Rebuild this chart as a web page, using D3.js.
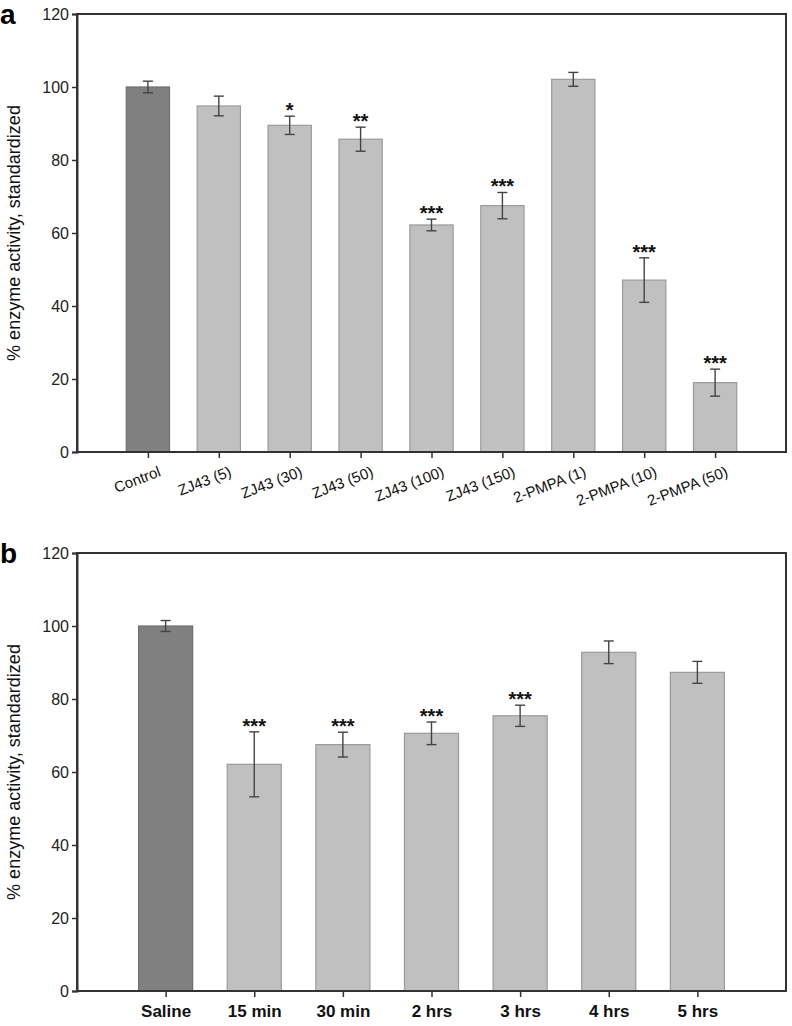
<!DOCTYPE html>
<html><head><meta charset="utf-8">
<script src="https://cdn.jsdelivr.net/npm/d3@7"></script>
<style>body{margin:0;background:#fff}svg{display:block}text{font-family:"Liberation Sans",Arial,sans-serif}</style>
</head><body>
<svg id="c" width="792" height="1026"></svg>
<script>
const catsA = ["Control","ZJ43 (5)","ZJ43 (30)","ZJ43 (50)","ZJ43 (100)","ZJ43 (150)","2-PMPA (1)","2-PMPA (10)","2-PMPA (50)"];
const valsA = [100, 94.8, 89.5, 85.7, 62.2, 67.5, 102.1, 47.1, 19.0];
const errA  = [1.6, 2.7, 2.5, 3.3, 1.6, 3.6, 1.9, 6.1, 3.7];
const sigA  = ["", "", "*", "**", "***", "***", "", "***", "***"];

const catsB = ["Saline","15 min","30 min","2 hrs","3 hrs","4 hrs","5 hrs"];
const valsB = [100, 62.1, 67.5, 70.6, 75.4, 92.8, 87.3];
const errB  = [1.5, 8.9, 3.4, 3.1, 2.9, 3.1, 3.0];
const sigB  = ["", "***", "***", "***", "***", "", ""];

const yTicks = [0, 20, 40, 60, 80, 100, 120];
const yTitle = "% enzyme activity, standardized";

const svg = d3.select("#c");
const L = 77, R = 786;

function panel(cats, vals, errs, sigs, top, bottom, letter, rotated) {
  const g = svg.append("g");
  const x = d3.scalePoint().domain(cats).range([L, R]).padding(1);
  const y = d3.scaleLinear().domain([0, 120]).range([bottom, top]);
  const bw = x.step() * 0.61;
  const data = cats.map((c, i) => ({c, v: vals[i], e: errs[i], s: sigs[i], i}));

  g.selectAll("rect.bar").data(data).enter().append("rect")
    .attr("x", d => x(d.c) - bw/2).attr("y", d => y(d.v))
    .attr("width", bw).attr("height", d => y(0) - y(d.v))
    .attr("fill", d => d.i === 0 ? "#808080" : "#c0c0c0")
    .attr("stroke", d => d.i === 0 ? "#707070" : "#9a9a9a").attr("stroke-width", 1.2);

  const eb = g.selectAll("g.eb").data(data).enter().append("g").attr("stroke", "#444").attr("stroke-width", 1.4);
  eb.append("line").attr("x1", d => x(d.c)).attr("x2", d => x(d.c)).attr("y1", d => y(d.v + d.e)).attr("y2", d => y(d.v - d.e));
  eb.append("line").attr("x1", d => x(d.c) - 5).attr("x2", d => x(d.c) + 5).attr("y1", d => y(d.v + d.e)).attr("y2", d => y(d.v + d.e));
  eb.append("line").attr("x1", d => x(d.c) - 5).attr("x2", d => x(d.c) + 5).attr("y1", d => y(d.v - d.e)).attr("y2", d => y(d.v - d.e));

  g.selectAll("text.sig").data(data.filter(d => d.s)).enter().append("text")
    .attr("x", d => x(d.c)).attr("y", d => y(d.v + d.e) + 1)
    .attr("text-anchor", "middle").attr("font-size", 20).attr("font-weight", "bold").attr("fill", "#111")
    .text(d => d.s);

  g.append("rect").attr("x", L).attr("y", top).attr("width", R - L).attr("height", bottom - top)
    .attr("fill", "none").attr("stroke", "#333").attr("stroke-width", 2);

  const ya = g.append("g").attr("transform", `translate(${L},0)`)
    .call(d3.axisLeft(y).tickValues(yTicks).tickSize(5).tickPadding(3));
  ya.select(".domain").attr("stroke", "#333").attr("stroke-width", 2);
  ya.selectAll(".tick line").attr("stroke", "#333").attr("stroke-width", 1.5);
  ya.selectAll(".tick text").attr("font-size", 16).attr("fill", "#222").attr("font-family", "Liberation Sans, Arial, sans-serif");

  const xa = g.append("g").attr("transform", `translate(0,${bottom})`)
    .call(d3.axisBottom(x).tickSize(6).tickPadding(rotated ? 4 : 10));
  xa.select(".domain").remove();
  xa.selectAll(".tick line").attr("stroke", "#333").attr("stroke-width", 1.5);
  const xt = xa.selectAll(".tick text").attr("fill", "#111").attr("font-family", "Liberation Sans, Arial, sans-serif");
  if (rotated) {
    xt.attr("font-size", 15).attr("text-anchor", "end")
      .attr("transform", "translate(8,10) rotate(-21)").attr("dy", "0.71em").attr("y", 4);
  } else {
    xt.attr("font-size", 17).attr("font-weight", "bold").attr("dy", "0.71em").attr("y", 14);
  }

  g.append("text").attr("transform", `translate(20,${(top + bottom) / 2}) rotate(-90)`)
    .attr("text-anchor", "middle").attr("font-size", 18).attr("fill", "#111").text(yTitle);

  g.append("text").attr("x", 0).attr("y", top + 10).attr("font-size", 28).attr("font-weight", "bold").attr("fill", "#000").text(letter);
}

panel(catsA, valsA, errA, sigA, 14, 452, "a", true);
panel(catsB, valsB, errB, sigB, 553, 991, "b", false);
</script>
</body></html>
